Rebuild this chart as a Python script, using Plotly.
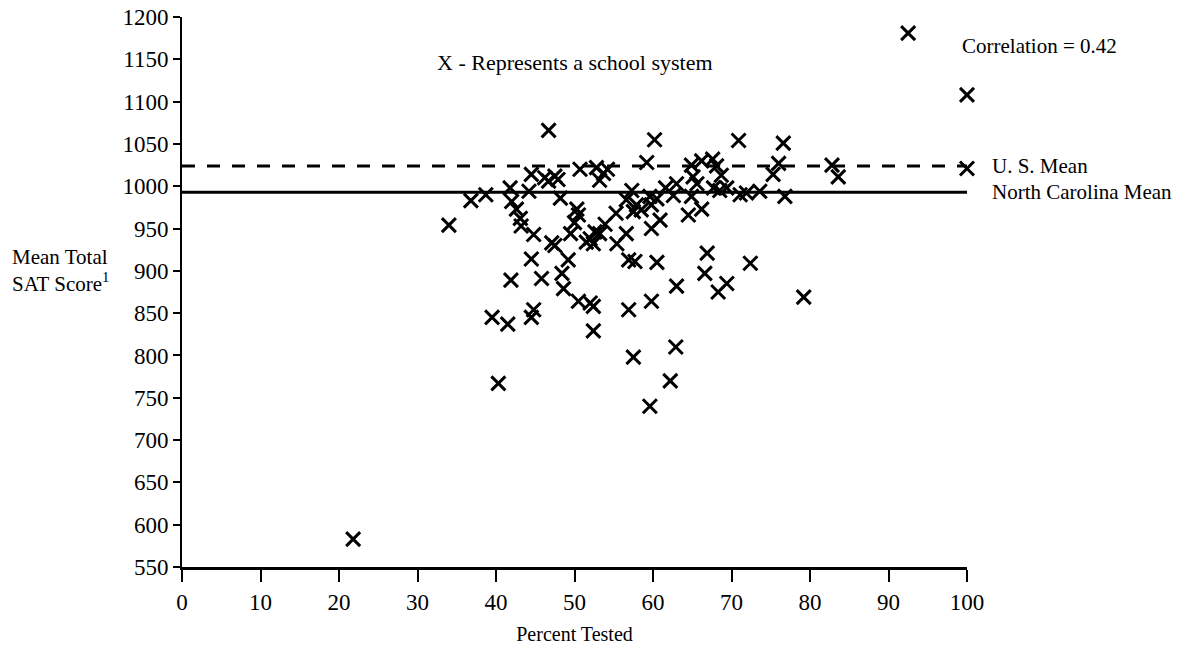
import plotly.graph_objects as go

# Percent tested / Mean total SAT score per school system
pct_tested = [21.8, 34.0, 36.8, 38.7, 39.5, 40.3, 41.5, 41.9, 41.8, 42.0,
              42.6, 43.1, 43.2, 44.2, 44.5, 44.8, 44.5, 44.8, 44.5, 45.8,
              46.2, 46.7, 47.5, 47.9, 46.7, 47.1, 47.5, 48.2, 48.4, 48.6,
              49.2, 49.5, 50.0, 50.3, 50.5, 50.5, 50.7, 52.0, 52.4, 52.6,
              53.2, 53.9, 51.5, 52.0, 52.4, 52.4, 52.8, 53.2, 53.7, 54.2,
              55.3, 55.4, 56.6, 56.9, 57.7, 56.9, 57.5, 57.3, 56.6, 57.9,
              57.5, 58.5, 59.2, 60.2, 59.6, 60.5, 59.8, 60.9, 59.8, 60.5,
              59.8, 59.6, 61.6, 63.0, 62.6, 63.0, 62.9, 62.2, 64.5, 66.2,
              64.9, 65.1, 65.6, 64.9, 66.2, 67.6, 68.1, 68.7, 67.7, 68.5,
              69.4, 66.9, 66.6, 69.4, 68.3, 70.9, 71.1, 71.9, 73.6, 72.4,
              76.6, 76.0, 75.3, 76.8, 79.2, 82.8, 83.6, 92.5, 100.0, 100.0]
sat_score = [583, 954, 983, 990, 845, 767, 837, 889, 998, 982,
             973, 962, 953, 994, 1014, 943, 914, 854, 845, 891,
             1010, 1006, 1012, 1008, 1066, 933, 930, 986, 897, 879,
             913, 944, 957, 973, 966, 864, 1020, 938, 932, 946,
             944, 955, 934, 862, 858, 829, 1022, 1007, 1015, 1020,
             968, 932, 944, 913, 911, 854, 798, 995, 984, 978,
             970, 972, 1028, 1055, 988, 985, 978, 960, 950, 910,
             864, 740, 998, 1003, 989, 882, 810, 770, 966, 973,
             1025, 1011, 1003, 988, 1030, 1032, 1024, 1013, 998, 995,
             998, 921, 897, 885, 875, 1054, 990, 992, 994, 909,
             1051, 1027, 1014, 988, 869, 1025, 1011, 1181, 1108, 1021]

us_mean = 1024
nc_mean = 993
x_ticks = [0, 10, 20, 30, 40, 50, 60, 70, 80, 90, 100]
y_ticks = list(range(550, 1201, 50))

SERIF = "Liberation Serif"

fig = go.Figure()
fig.add_trace(go.Scatter(
    x=pct_tested, y=sat_score, mode="markers",
    marker=dict(symbol="x-thin", size=14, color="black",
                line=dict(color="black", width=3)),
    cliponaxis=False, showlegend=False, hoverinfo="x+y"))

# mean lines
fig.add_shape(type="line", xref="x", yref="y", x0=0, x1=102, y0=us_mean, y1=us_mean,
              line=dict(color="black", width=3, dash="13px,12px"))
fig.add_shape(type="line", xref="x", yref="y", x0=0, x1=101, y0=nc_mean, y1=nc_mean,
              line=dict(color="black", width=3))

fig.update_layout(
    width=1186, height=655,
    margin=dict(l=182, r=219, t=17, b=88, autoexpand=False),
    plot_bgcolor="white", paper_bgcolor="white",
    font=dict(family=SERIF, color="black", size=20),
    xaxis=dict(range=[0, 100], tickvals=x_ticks, ticks="outside", ticklen=12,
               tickwidth=1.5, tickcolor="black", showgrid=False, zeroline=False,
               showline=True, linecolor="black", linewidth=3, automargin=False,
               tickfont=dict(family=SERIF, size=23),
               title=dict(text="Percent Tested", font=dict(family=SERIF, size=20),
                          standoff=14)),
    yaxis=dict(range=[550, 1200], tickvals=y_ticks, ticks="outside", ticklen=7,
               tickwidth=1.5, tickcolor="black", showgrid=False, zeroline=False,
               showline=True, linecolor="black", linewidth=2, automargin=False,
               tickfont=dict(family=SERIF, size=23)),
)

ann = dict(showarrow=False, font=dict(family=SERIF, size=21, color="black"))
fig.add_annotation(text="X - Represents a school system", xref="paper", yref="paper",
                   x=(575 - 182) / 785, y=(567 - 63) / 550, xanchor="center", yanchor="middle",
                   showarrow=False, font=dict(family=SERIF, size=22, color="black"))
fig.add_annotation(text="Correlation = 0.42", xref="paper", yref="paper",
                   x=(960 - 182) / 785, y=(567 - 46) / 550, xanchor="left", yanchor="middle", **ann)
fig.add_annotation(text="U. S. Mean", xref="paper", yref="y",
                   x=(990 - 182) / 785, y=us_mean, xanchor="left", yanchor="middle", **ann)
fig.add_annotation(text="North Carolina Mean", xref="paper", yref="y",
                   x=(990 - 182) / 785, y=nc_mean, xanchor="left", yanchor="middle", **ann)
fig.add_annotation(text="Mean Total", xref="paper", yref="paper",
                   x=(10 - 182) / 785, y=(567 - 257) / 550, xanchor="left", yanchor="middle", **ann)
fig.add_annotation(text="SAT Score<sup>1</sup>", xref="paper", yref="paper",
                   x=(10 - 182) / 785, y=(567 - 282) / 550, xanchor="left", yanchor="middle", **ann)

fig.write_html("out.html")
